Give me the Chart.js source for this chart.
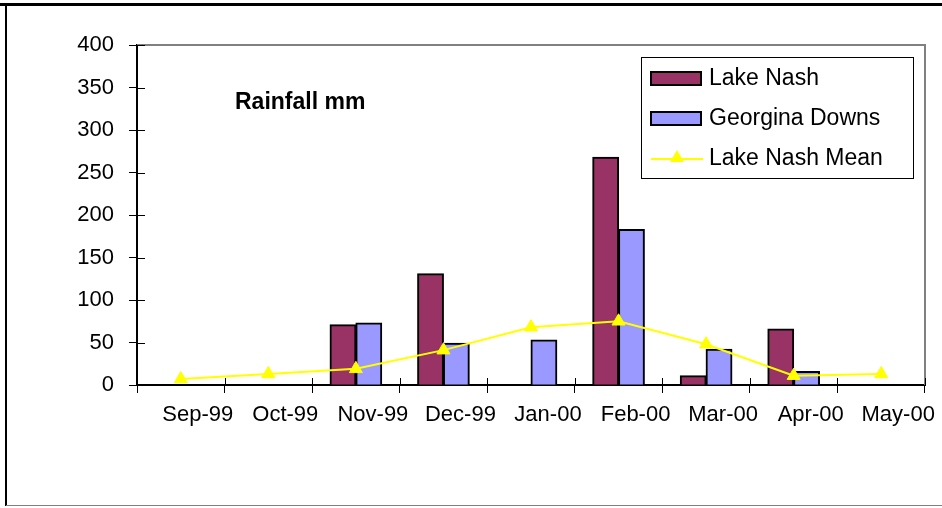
<!DOCTYPE html>
<html>
<head>
<meta charset="utf-8">
<script src="https://cdn.jsdelivr.net/npm/chart.js@4/dist/chart.umd.min.js"></script>
<style>
  html, body { margin: 0; padding: 0; background: #fff; }
  #wrap { width: 942px; height: 508px; position: relative; }
  canvas { display: block; }
</style>
</head>
<body>
<div id="wrap"><canvas id="c" width="942" height="508"></canvas></div>
<script>
// Monthly rainfall, Sep 1999 – May 2000 (mm)
const months = ['Sep-99', 'Oct-99', 'Nov-99', 'Dec-99', 'Jan-00', 'Feb-00', 'Mar-00', 'Apr-00', 'May-00'];
const lakeNash = [null, null, 71, 131, null, 268, 11, 66, null];
const georginaDowns = [null, null, 73, 49, 53, 183, 42, 16, null];
const lakeNashMean = [7, 13, 19, 41, 68, 75, 48, 11, 13];
const yMin = 0;
const yMax = 400;
const yStep = 50;
const chartTitle = 'Rainfall mm';

const FONT = "'Liberation Sans', Arial, sans-serif";
const MAROON = '#993366';
const LILAC = '#9999FF';
const YELLOW = '#FFFF00';

function triangle(ctx, x, y, r) {
  ctx.beginPath();
  ctx.moveTo(x, y - r);
  ctx.lineTo(x + Math.sin(Math.PI / 3) * r, y + r / 2);
  ctx.lineTo(x - Math.sin(Math.PI / 3) * r, y + r / 2);
  ctx.closePath();
  ctx.fill();
}

// Outer frame, plot border and inward halves of the cross tick marks
const framePlugin = {
  id: 'frame',
  beforeDraw(chart) {
    const ctx = chart.ctx;
    ctx.save();
    ctx.fillStyle = '#fff';
    ctx.fillRect(0, 0, chart.width, chart.height);
    ctx.restore();
  },
  beforeDatasetsDraw(chart) {
    const ctx = chart.ctx;
    const a = chart.chartArea;
    ctx.save();
    ctx.strokeStyle = '#808080';
    ctx.lineWidth = 2;
    ctx.beginPath();
    ctx.moveTo(a.left, a.top);
    ctx.lineTo(a.right, a.top);
    ctx.lineTo(a.right, a.bottom);
    ctx.stroke();

    ctx.strokeStyle = '#000';
    ctx.lineWidth = 1;
    const ys = chart.scales.y;
    ys.ticks.forEach((t, i) => {
      const py = Math.round(ys.getPixelForTick(i)) + 0.5;
      ctx.beginPath();
      ctx.moveTo(a.left, py);
      ctx.lineTo(a.left + 8, py);
      ctx.stroke();
    });
    const xs = chart.scales.x;
    const n = xs.ticks.length;
    for (let i = 0; i <= n; i++) {
      const px = Math.round(a.left + (a.right - a.left) * i / n) + 0.5;
      ctx.beginPath();
      ctx.moveTo(px, a.bottom);
      ctx.lineTo(px, a.bottom - 7);
      ctx.stroke();
    }
    ctx.restore();
  },
  afterDraw(chart) {
    const ctx = chart.ctx;
    ctx.save();
    ctx.strokeStyle = '#000';
    ctx.lineWidth = 3;
    ctx.beginPath();
    ctx.moveTo(0, 4.5);
    ctx.lineTo(chart.width, 4.5);
    ctx.stroke();
    ctx.lineWidth = 2;
    ctx.beginPath();
    ctx.moveTo(6, 4);
    ctx.lineTo(6, 506);
    ctx.stroke();
    ctx.strokeStyle = '#808080';
    ctx.lineWidth = 1;
    ctx.beginPath();
    ctx.moveTo(6, 505.5);
    ctx.lineTo(chart.width, 505.5);
    ctx.stroke();
    ctx.restore();
  }
};

// Caption and boxed legend inside the plot
const legendPlugin = {
  id: 'boxLegend',
  afterDatasetsDraw(chart) {
    const ctx = chart.ctx;
    ctx.save();
    ctx.font = 'bold 23px ' + FONT;
    ctx.fillStyle = '#000';
    ctx.textBaseline = 'middle';
    ctx.textAlign = 'left';
    ctx.fillText(chartTitle, 235, 103);

    const bx = 641, by = 57, bw = 272, bh = 121;
    ctx.fillStyle = '#fff';
    ctx.fillRect(bx, by, bw, bh);
    ctx.strokeStyle = '#000';
    ctx.lineWidth = 1;
    ctx.strokeRect(bx + 0.5, by + 0.5, bw, bh);

    const rows = [78, 118, 158];
    ctx.font = '23px ' + FONT;
    chart.data.datasets.forEach((ds, i) => {
      const cy = rows[i];
      if (ds.type === 'line') {
        ctx.strokeStyle = ds.borderColor;
        ctx.lineWidth = 2;
        ctx.beginPath();
        ctx.moveTo(651, cy + 1);
        ctx.lineTo(703, cy + 1);
        ctx.stroke();
        ctx.fillStyle = ds.backgroundColor;
        triangle(ctx, 677, cy, 8);
      } else {
        ctx.fillStyle = ds.backgroundColor;
        ctx.fillRect(651, cy - 6, 50, 13);
        ctx.strokeStyle = '#000';
        ctx.lineWidth = 2;
        ctx.strokeRect(651, cy - 6, 50, 13);
      }
      ctx.fillStyle = '#000';
      ctx.fillText(ds.label, 709, cy + 1);
    });
    ctx.restore();
  }
};

new Chart(document.getElementById('c'), {
  data: {
    labels: months,
    datasets: [
      {
        type: 'bar',
        label: 'Lake Nash',
        data: lakeNash,
        backgroundColor: MAROON,
        borderColor: '#000',
        borderWidth: 2,
        inflateAmount: 0.5,
        order: 1
      },
      {
        type: 'bar',
        label: 'Georgina Downs',
        data: georginaDowns,
        backgroundColor: LILAC,
        borderColor: '#000',
        borderWidth: 2,
        inflateAmount: 0.5,
        order: 2
      },
      {
        type: 'line',
        label: 'Lake Nash Mean',
        data: lakeNashMean,
        borderColor: YELLOW,
        backgroundColor: YELLOW,
        borderWidth: 2,
        tension: 0,
        pointStyle: 'triangle',
        pointRadius: 7.5,
        pointBorderWidth: 1,
        pointBackgroundColor: YELLOW,
        pointBorderColor: YELLOW,
        order: 0
      }
    ]
  },
  options: {
    responsive: false,
    devicePixelRatio: 1,
    animation: false,
    layout: { padding: { top: 45, right: 17, bottom: 0, left: 0 } },
    datasets: {
      bar: { categoryPercentage: 0.59, barPercentage: 1.0 }
    },
    plugins: {
      legend: { display: false },
      title: { display: false },
      tooltip: { enabled: false }
    },
    scales: {
      x: {
        type: 'category',
        offset: true,
        grid: {
          display: true,
          offset: true,
          drawOnChartArea: false,
          drawTicks: true,
          tickLength: 8,
          color: '#000',
          lineWidth: 1
        },
        border: { display: true, color: '#000', width: 2 },
        ticks: {
          color: '#000',
          font: { family: FONT, size: 22 },
          padding: 9,
          labelOffset: 17,
          maxRotation: 0,
          autoSkip: false
        },
        afterFit(scale) { scale.height = 123; }
      },
      y: {
        min: yMin,
        max: yMax,
        grid: {
          display: true,
          drawOnChartArea: false,
          drawTicks: true,
          tickLength: 8,
          color: '#000',
          lineWidth: 1
        },
        border: { display: true, color: '#000', width: 2 },
        ticks: {
          stepSize: yStep,
          color: '#000',
          font: { family: FONT, size: 22 },
          padding: 15
        },
        afterFit(scale) { scale.width = 137; }
      }
    }
  },
  plugins: [framePlugin, legendPlugin]
});
</script>
</body>
</html>
